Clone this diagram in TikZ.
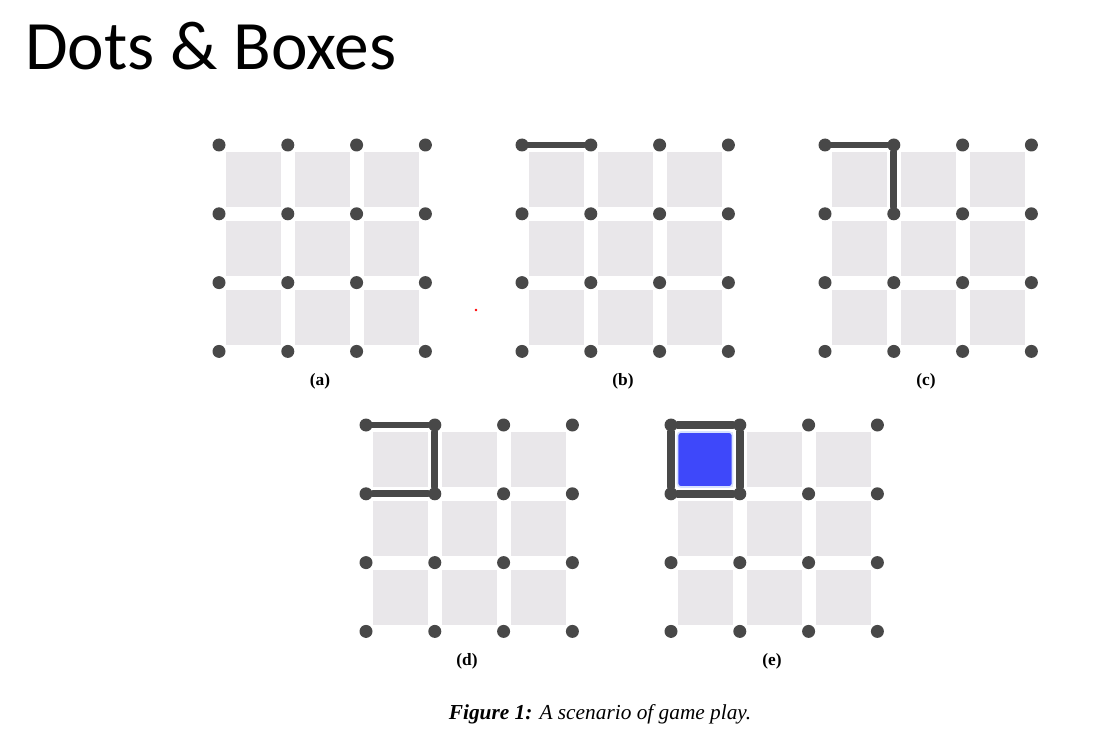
\documentclass[tikz,border=0pt]{standalone}
\usepackage{fontspec}
\setmainfont{Liberation Serif}
\newfontfamily\titlefont{Carlito}
\usetikzlibrary{positioning}

\definecolor{dotgray}{RGB}{72,72,72}
\definecolor{boxgray}{RGB}{233,231,234}
\definecolor{ownblue}{RGB}{62,72,250}
\definecolor{rimblue}{RGB}{215,225,255}

\begin{document}
\begin{tikzpicture}[x=0.75pt,y=-0.75pt,
                    dot/.style={circle,fill=dotgray,inner sep=0pt,minimum size=9.75pt},
                    line/.style={draw=dotgray,line width=5pt,line cap=round},
                    fat line/.style={draw=dotgray,line width=6pt,line cap=round},
                    sub label/.style={font=\bfseries\fontsize{13}{15}\selectfont}]

  \useasboundingbox[fill=white] (0,0) rectangle (1097,735);

  \node[anchor=base west,inner sep=0pt,font=\titlefont\fontsize{52}{60}\selectfont]
    (title) at (25,70) {Dots \& Boxes};

  % the five boards
  \foreach \g/\ox/\oy in {a/219/145, b/522/145, c/825/145, d/366/425, e/671/425} {
    \foreach \i in {0,1,2}
      \foreach \j in {0,1,2}
        \fill[boxgray] (\ox+\i*68.8+6.9,\oy+\j*68.8+6.9) rectangle ++(55,55);
    \foreach \i in {0,...,3}
      \foreach \j in {0,...,3}
        \node[dot] (\g-\i-\j) at (\ox+\i*68.8,\oy+\j*68.8) {};
    \node[sub label] (lbl-\g) at (\ox+101,\oy+236) {(\g)};
  }

  % captured box
  \draw[fill=ownblue,draw=rimblue,line width=1.2pt,rounded corners=2.5pt]
    (677.5,432) rectangle (732.5,487);

  \path[line]
    (b-0-0) edge (b-1-0)
    (c-0-0) edge (c-1-0)
    (c-1-0) edge (c-1-1)
    (d-0-0) edge (d-1-0)
    (d-1-0) edge (d-1-1)
    (d-1-1) edge (d-0-1)
  ;
  \path[fat line]
    (e-0-0) edge (e-1-0)
    (e-1-0) edge (e-1-1)
    (e-1-1) edge (e-0-1)
    (e-0-1) edge (e-0-0)
  ;

  \fill[red] (476,310) circle (1.3);

  \node[anchor=base,font=\fontsize{16}{19}\selectfont] (caption) at (600,719)
    {\textbf{\textit{Figure 1:}} \textit{A scenario of game play.}};
\end{tikzpicture}
\end{document}
